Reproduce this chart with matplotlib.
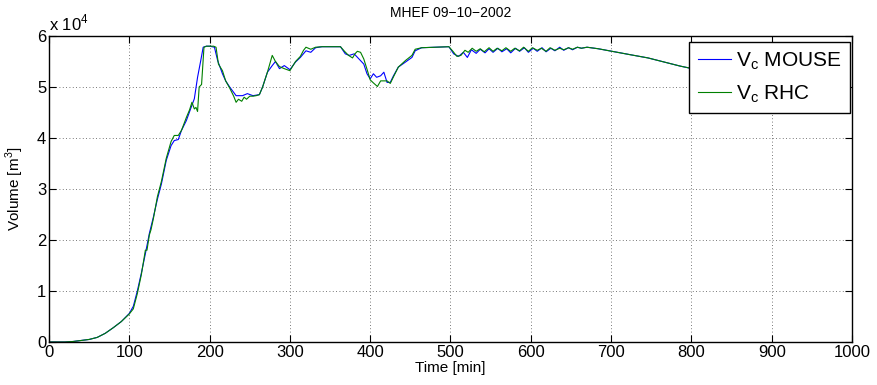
import matplotlib
matplotlib.use("Agg")
import matplotlib.pyplot as plt
import numpy as np

plt.rcParams['font.family'] = ['Liberation Sans', 'DejaVu Sans']
plt.rcParams['mathtext.fontset'] = 'custom'
plt.rcParams['mathtext.rm'] = 'Liberation Sans'

# ---- data (volume in units of 1e4 m^3) ----
t_mouse = [0, 20, 30, 40, 50, 60, 70, 80, 90, 100, 105, 110, 115, 120, 125, 130, 135, 140, 146, 152,
           156, 161, 165, 171, 177, 181, 185, 189, 192, 196, 200, 206, 210, 216, 220, 225, 233, 241, 247, 254,
           262, 266, 272, 278, 282, 287, 293, 300, 307, 313, 320, 326, 332, 340, 363, 369, 374, 380, 386, 392,
           396, 400, 404, 408, 413, 417, 421, 425, 429, 435, 444, 452, 456, 464, 498, 504, 510, 516, 521, 526,
           532, 537, 543, 548, 553, 559, 564, 570, 575, 581, 586, 592, 597, 603, 608, 614, 619, 625, 630, 636,
           641, 647, 652, 658, 663, 670, 684, 701, 725, 746, 766, 786, 807, 830, 850]
v_mouse = [0, 0, 0.01, 0.03, 0.05, 0.09, 0.17, 0.28, 0.4, 0.56, 0.7, 1.0, 1.35, 1.73, 2.13, 2.45, 2.8, 3.1, 3.56, 3.85,
           3.95, 3.97, 4.15, 4.34, 4.6, 4.77, 5.19, 5.52, 5.78, 5.8, 5.8, 5.78, 5.52, 5.26, 5.12, 5.0, 4.83, 4.83, 4.87, 4.83,
           4.85, 5.0, 5.29, 5.42, 5.5, 5.36, 5.42, 5.34, 5.49, 5.58, 5.71, 5.68, 5.77, 5.79, 5.79, 5.65, 5.62, 5.65, 5.55, 5.45,
           5.26, 5.16, 5.26, 5.19, 5.22, 5.29, 5.09, 5.09, 5.22, 5.39, 5.49, 5.58, 5.71, 5.77, 5.79, 5.65, 5.6, 5.68, 5.58, 5.73,
           5.66, 5.74, 5.67, 5.75, 5.68, 5.76, 5.69, 5.75, 5.67, 5.76, 5.7, 5.77, 5.68, 5.76, 5.7, 5.77, 5.69, 5.76, 5.71, 5.78,
           5.72, 5.77, 5.73, 5.78, 5.76, 5.78, 5.75, 5.70, 5.63, 5.57, 5.49, 5.41, 5.34, 5.23, 5.14]

t_rhc = [0, 20, 30, 40, 50, 60, 70, 80, 90, 100, 105, 110, 115, 120, 122, 125, 127, 130, 135, 140,
         146, 152, 156, 161, 165, 171, 175, 178, 181, 183, 185, 187, 190, 193, 196, 200, 205, 208, 211, 216,
         220, 225, 230, 233, 236, 240, 243, 246, 250, 254, 258, 262, 266, 272, 278, 282, 287, 293, 300, 307,
         313, 317, 320, 326, 332, 340, 363, 368, 373, 378, 381, 384, 388, 392, 396, 400, 404, 409, 413, 417,
         421, 425, 429, 435, 444, 452, 456, 464, 498, 503, 508, 513, 518, 522, 527, 532, 537, 542, 548, 553,
         558, 564, 569, 575, 580, 586, 591, 597, 602, 608, 613, 619, 624, 630, 636, 641, 647, 652, 658, 663,
         670, 684, 701, 725, 746, 766, 786, 807, 830, 850]
v_rhc = [0, 0, 0.01, 0.03, 0.05, 0.09, 0.17, 0.28, 0.4, 0.55, 0.65, 0.95, 1.32, 1.80, 1.80, 2.1, 2.2, 2.42, 2.85, 3.15,
         3.6, 3.93, 4.05, 4.05, 4.15, 4.4, 4.55, 4.7, 4.57, 4.6, 4.52, 5.0, 5.05, 5.78, 5.8, 5.8, 5.8, 5.78, 5.45, 5.32,
         5.12, 4.98, 4.82, 4.7, 4.76, 4.72, 4.8, 4.76, 4.82, 4.82, 4.83, 4.85, 5.0, 5.29, 5.62, 5.5, 5.4, 5.36, 5.32, 5.5,
         5.6, 5.72, 5.78, 5.74, 5.78, 5.79, 5.79, 5.7, 5.62, 5.57, 5.65, 5.7, 5.68, 5.55, 5.35, 5.14, 5.08, 5.01, 5.12, 5.12,
         5.12, 5.07, 5.2, 5.39, 5.52, 5.62, 5.74, 5.77, 5.79, 5.7, 5.6, 5.62, 5.72, 5.68, 5.76, 5.7, 5.75, 5.69, 5.77, 5.7,
         5.76, 5.71, 5.77, 5.7, 5.76, 5.71, 5.78, 5.7, 5.77, 5.72, 5.76, 5.7, 5.77, 5.72, 5.76, 5.73, 5.77, 5.74, 5.78, 5.76,
         5.78, 5.75, 5.70, 5.63, 5.57, 5.49, 5.41, 5.34, 5.23, 5.14]

x_ticks = [0, 100, 200, 300, 400, 500, 600, 700, 800, 900, 1000]
y_ticks = [0, 1, 2, 3, 4, 5, 6]

title = "MHEF 09\u221210\u22122002"
xlabel = "Time [min]"
ylabel = "Volume [m$^3$]"
labels = ["V$_\\mathregular{c}$ MOUSE", "V$_\\mathregular{c}$ RHC"]

fig = plt.figure(figsize=(8.78, 3.85), dpi=100)
ax = fig.add_axes([49/878, 43/385, 803/878, 306/385])

ax.plot(t_mouse, v_mouse, color=(0, 0, 1), lw=0.8, label=labels[0])
ax.plot(t_rhc, v_rhc, color=(0, 0.5, 0), lw=0.8, label=labels[1])

ax.set_xlim(0, 1000)
ax.set_ylim(0, 6)
ax.set_xticks(x_ticks)
ax.set_yticks(y_ticks)
ax.set_xticklabels([str(v) for v in x_ticks])
ax.set_yticklabels([str(v) for v in y_ticks])
ax.tick_params(direction='in', top=True, right=True, labelsize=12, length=5, width=0.8, pad=2)
ax.grid(True, linestyle=(0, (1, 3)), color='black', linewidth=0.6, alpha=0.7)
for s in ax.spines.values():
    s.set_linewidth(1.0)

ax.set_xlabel(xlabel, fontsize=11, labelpad=1)
ax.set_ylabel(ylabel, fontsize=11, labelpad=8)
ax.set_title(title, fontsize=10, pad=14)
ax.text(0, 1.008, "x 10$^4$", transform=ax.transAxes, fontsize=12, ha='left', va='bottom')

leg = ax.legend(loc='upper right', bbox_to_anchor=(1.0 - 2/803, 1.0 - 6/306), fontsize=15,
                handlelength=1.6, handletextpad=0.25, borderpad=0.4, labelspacing=0.55,
                fancybox=False, edgecolor='black', framealpha=1.0, borderaxespad=0)
leg.get_frame().set_linewidth(1.0)

fig.savefig("out.png", dpi=100)
